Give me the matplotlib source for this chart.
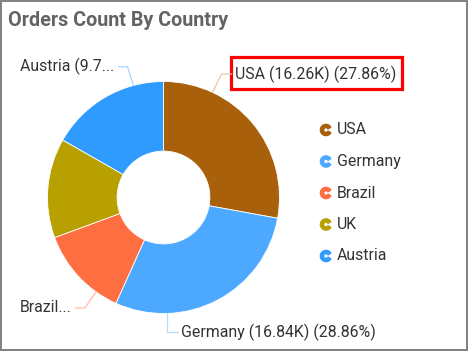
import numpy as np
import matplotlib
matplotlib.use("Agg")
import matplotlib.pyplot as plt
from matplotlib.patches import Wedge, Rectangle

plt.rcParams['font.family'] = ['Roboto', 'DejaVu Sans']

# data
countries = ['USA', 'Germany', 'Brazil', 'UK', 'Austria']
orders_k = [16.26, 16.84, 7.39, 8.09, 9.78]
percents = [27.86, 28.86, 12.67, 13.86, 16.75]
colors = ['#A8600B', '#4DA9FF', '#FF6E40', '#B8A000', '#2F9BFF']
line_colors = ['#E3C9A8', '#B9DDFF', '#FFB9A3', '#E0D69E', '#A9D3FF']

# layout (pixels, origin top-left)
W, H = 469, 352
cx, cy, R = 163.5, 197.5, 116.0
hole = 0.4

fig = plt.figure(figsize=(W / 100, H / 100), dpi=100)

# donut
ax = fig.add_axes([(cx - R) / W, (H - cy - R) / H, 2 * R / W, 2 * R / H])
ax.pie(percents, colors=colors, startangle=90, counterclock=False,
       wedgeprops=dict(width=1 - hole, edgecolor='white', linewidth=0.6))
ax.set_xlim(-1, 1)
ax.set_ylim(-1, 1)
ax.set_aspect('auto')
ax.axis('off')

# overlay in pixel coords
ov = fig.add_axes([0, 0, 1, 1], zorder=3)
ov.set_xlim(0, W)
ov.set_ylim(H, 0)
ov.axis('off')

ov.text(8, 21, 'Orders Count By Country', fontsize=14.2, fontweight='bold',
        color='#636363', va='center', ha='left')

# outer labels: (index, anchor angle clockwise from top, elbow dx, elbow y, end dx, text)
def edge_pt(ang):
    a = np.radians(ang)
    return cx + R * np.sin(a), cy - R * np.cos(a)

label_specs = [
    (0, 25, 9, 74, 10, 'USA ({:.2f}K) ({:.2f}%)'.format(orders_k[0], percents[0])),
    (4, 345, -6, 66.7, -9, 'Austria (9.7...'),
    (1, 178.2, 0, 332, 11, 'Germany ({:.2f}K) ({:.2f}%)'.format(orders_k[1], percents[1])),
    (2, 215.6, -11, 308, -9, 'Brazil...'),
]
for i, ang, edx, ey, endx, txt in label_specs:
    x0, y0 = edge_pt(ang)
    x1 = x0 + edx
    x2 = x1 + endx
    ov.plot([x0, x1, x2], [y0, ey, ey], color=line_colors[i], lw=0.9)
    if endx > 0:
        ov.text(x2 + 3, ey, txt, fontsize=11.4, color='#333333', va='center', ha='left')
    else:
        ov.text(x2 - 4, ey, txt, fontsize=11.4, color='#333333', va='center', ha='right')

# highlight box around USA label
ov.add_patch(Rectangle((231, 57), 171, 32, fill=False, edgecolor='#FF0000', lw=2.3))

# legend
ly0, lstep = 130, 31.5
for k, (name, col) in enumerate(zip(countries, colors)):
    y = ly0 + k * lstep
    ov.add_patch(Wedge((326, y), 5.6, 30, 330, width=3.2, color=col))
    ov.text(337, y, name, fontsize=11.4, color='#333333', va='center', ha='left')

# frame
ov.add_patch(Rectangle((1, 1), 466, 349, fill=False, edgecolor='#808080', lw=1.4))

fig.savefig('out.png', dpi=100, facecolor='white')
